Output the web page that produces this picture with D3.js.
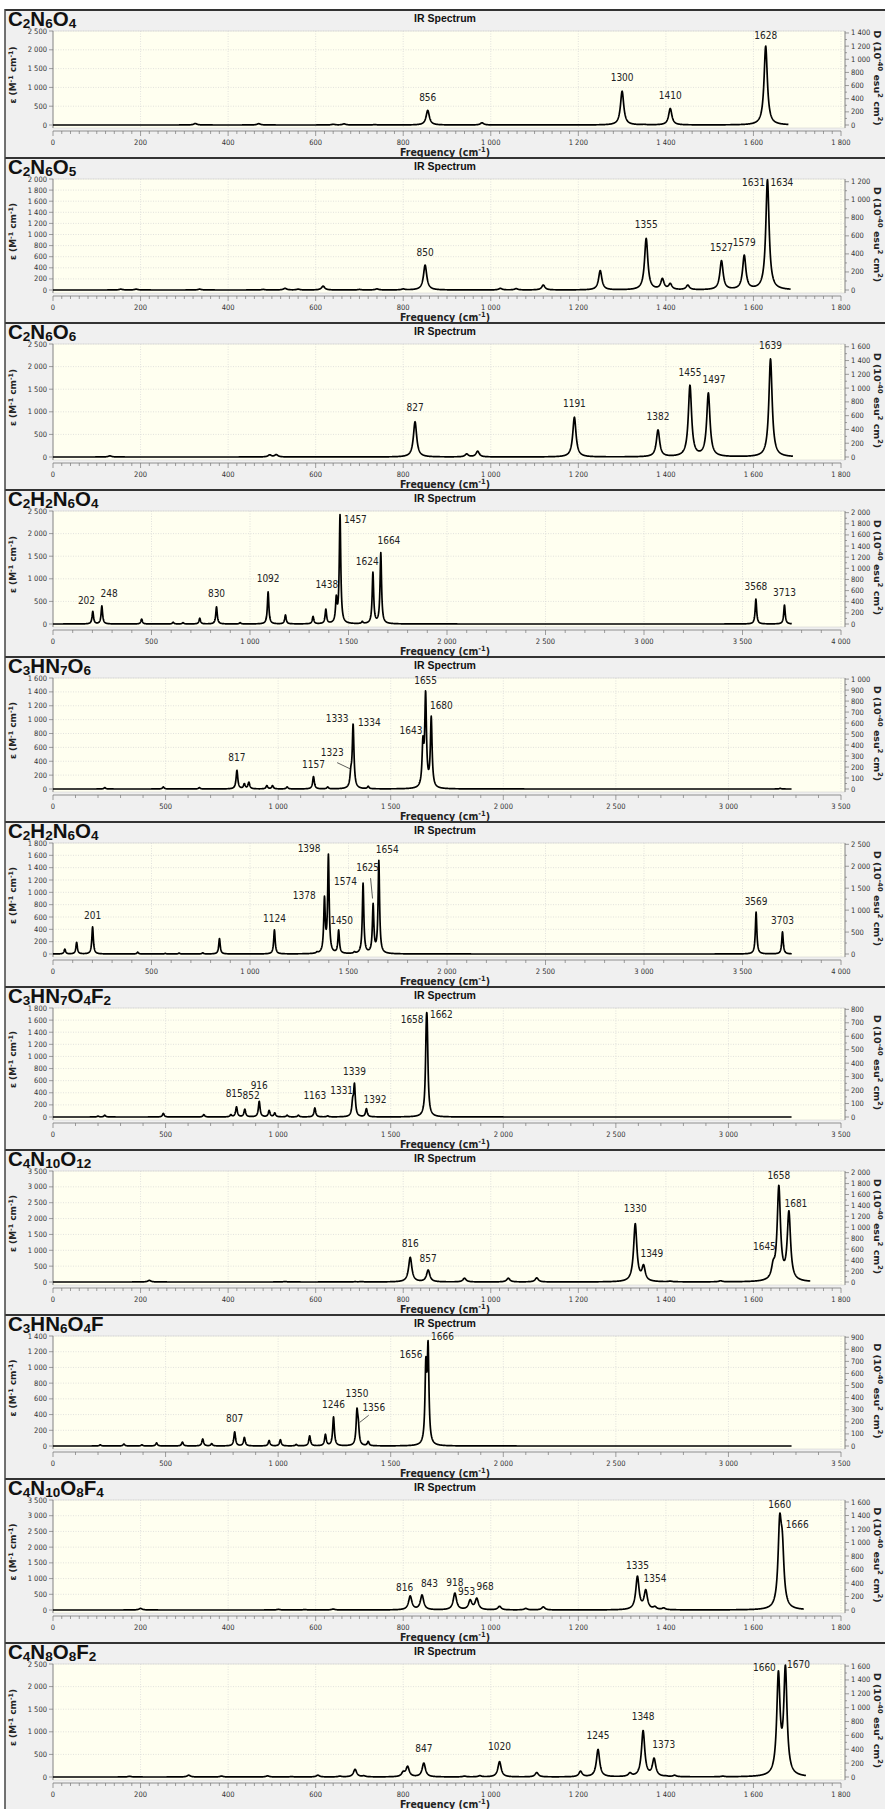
<!DOCTYPE html>
<html><head><meta charset="utf-8">
<script src="https://cdn.jsdelivr.net/npm/d3@7"></script>
<style>body{margin:0;background:#fff}svg{display:block}</style>
</head><body><svg id="c" width="885" height="1809"></svg>
<script>
// ---------------- DATA ----------------
const formulas = ["C2N6O4","C2N6O5","C2N6O6","C2H2N6O4","C3HN7O6","C2H2N6O4","C3HN7O4F2","C4N10O12","C3HN6O4F","C4N10O8F4","C4N8O8F2"];
const xMaxes = [1800,1800,1800,4000,3500,4000,3500,1800,3500,1800,1800];
const xMajor = [200,200,200,500,500,500,500,200,500,200,200];
const xMinor = [20,20,20,100,100,100,100,20,100,20,20];
const yMaxes = [2500,2000,2500,2500,1600,1800,1800,3500,1400,3500,2500];
const yMajor = [500,200,500,500,200,200,200,500,200,500,500];
const dMaxes = [1430,1230,1640,2030,1010,2530,810,2030,910,1630,1630];
const dMajor = [200,200,200,200,100,500,100,200,100,200,200];
const curveEnds = [1680,1685,1690,3750,3280,3750,3280,1730,3280,1715,1720];

// peaks: [frequency cm-1, observed epsilon height]
const peaks01 = [[325,40],[470,35],[640,20],[665,30],[735,12],[856,390],[980,60],[1300,900],[1350,20],[1410,440],[1628,2100]];
const peaks02 = [[155,15],[190,15],[335,15],[480,10],[530,30],[560,15],[617,70],[700,10],[740,20],[800,20],[850,450],[1022,30],[1058,25],[1120,90],[1250,350],[1355,930],[1392,210],[1410,120],[1450,90],[1527,530],[1579,630],[1632,1990]];
const peaks03 = [[130,25],[495,50],[510,55],[827,780],[945,70],[970,130],[1191,880],[1382,600],[1455,1590],[1497,1420],[1639,2170]];
const peaks04 = [[202,280],[248,400],[450,110],[610,40],[660,30],[745,130],[830,380],[950,30],[1092,710],[1180,200],[1320,170],[1385,330],[1438,640],[1457,2420],[1570,60],[1624,1150],[1664,1580],[3568,550],[3713,420]];
const peaks05 = [[230,20],[490,30],[650,20],[817,270],[850,80],[870,100],[950,50],[975,50],[1040,30],[1157,180],[1220,30],[1323,330],[1333,940],[1400,40],[1643,760],[1655,1420],[1680,1050],[3230,10]];
const peaks06 = [[60,80],[120,190],[201,440],[430,30],[570,10],[640,15],[760,20],[845,250],[1124,390],[1340,40],[1378,940],[1398,1620],[1450,390],[1530,40],[1574,1150],[1625,820],[1654,1520],[3569,680],[3703,360]];
const peaks07 = [[200,15],[230,30],[490,60],[670,40],[790,40],[815,170],[852,130],[916,260],[960,110],[985,70],[1040,30],[1090,30],[1163,150],[1220,20],[1331,330],[1339,560],[1392,140],[1658,1600],[1662,1620]];
const peaks08 = [[220,50],[530,15],[690,10],[705,15],[816,780],[857,380],[940,120],[1040,120],[1105,130],[1330,1840],[1349,550],[1410,30],[1525,40],[1645,700],[1658,3050],[1681,2250]];
const peaks09 = [[210,15],[315,25],[395,15],[460,40],[575,50],[665,90],[705,30],[807,180],[850,110],[960,70],[1010,80],[1080,20],[1140,130],[1210,150],[1246,370],[1350,480],[1356,350],[1400,60],[1656,1130],[1666,1340]];
const peaks10 = [[200,50],[515,20],[575,15],[640,30],[816,450],[843,480],[918,540],[953,330],[968,380],[1020,120],[1080,50],[1120,100],[1335,1080],[1354,650],[1375,120],[1395,70],[1660,3050],[1666,2500]];
const peaks11 = [[175,15],[310,40],[385,20],[490,25],[545,10],[605,40],[655,20],[690,170],[710,30],[800,130],[810,240],[847,310],[940,20],[975,30],[1020,340],[1105,100],[1205,130],[1245,610],[1318,100],[1348,1030],[1373,420],[1400,30],[1420,40],[1530,20],[1657,2350],[1673,2480]];

// peak labels: [text, x (cm-1), y (epsilon) of label baseline]
const labels01 = [["856",856,640],["1300",1300,1170],["1410",1410,700],["1628",1628,2300]];
const labels02 = [["850",850,620],["1355",1355,1120],["1527",1527,700],["1579",1579,800],["1631",1600,1880],["1634",1665,1880]];
const labels03 = [["827",827,1010],["1191",1191,1100],["1382",1382,820],["1455",1455,1800],["1497",1510,1640],["1639",1639,2380]];
const labels04 = [["202",170,450],["248",285,590],["830",830,590],["1092",1092,920],["1438",1390,800],["1457",1535,2240],["1624",1595,1310],["1664",1705,1760],["3568",3568,760],["3713",3713,620]];
const labels05 = [["817",817,400],["1157",1157,300],["1323",1240,480],["1333",1262,960],["1334",1405,910],["1643",1590,800],["1655",1655,1520],["1680",1725,1160]];
const labels06 = [["201",201,560],["1124",1124,520],["1378",1275,900],["1398",1300,1650],["1450",1465,490],["1574",1485,1120],["1625",1597,1340],["1654",1697,1640],["3569",3569,800],["3703",3703,480]];
const labels07 = [["815",805,330],["852",880,290],["916",916,470],["1163",1163,290],["1331",1282,380],["1339",1339,700],["1392",1430,230],["1658",1595,1560],["1662",1725,1640]];
const labels08 = [["816",816,1100],["857",857,640],["1330",1330,2200],["1349",1368,780],["1645",1625,1000],["1658",1658,3250],["1681",1697,2350]];
const labels09 = [["807",807,300],["1246",1246,480],["1350",1350,620],["1356",1425,440],["1656",1590,1120],["1666",1730,1350]];
const labels10 = [["816",803,620],["843",860,720],["918",918,760],["953",945,480],["968",987,640],["1335",1335,1300],["1354",1375,900],["1660",1660,3250],["1666",1700,2600]];
const labels11 = [["847",847,560],["1020",1020,600],["1245",1245,850],["1348",1348,1270],["1373",1395,650],["1660",1625,2350],["1670",1703,2420]];

// leader lines: [panel index, x1, y1, x2, y2] (data units)
const leaders = [[4,1262,380,1320,290],[5,1612,1230,1622,900],[8,1402,390,1362,300]];

const allPeaks = [peaks01,peaks02,peaks03,peaks04,peaks05,peaks06,peaks07,peaks08,peaks09,peaks10,peaks11];
const allLabels = [labels01,labels02,labels03,labels04,labels05,labels06,labels07,labels08,labels09,labels10,labels11];

// ---------------- LAYOUT ----------------
const B = [10,158,323,490,657,822,987,1150,1315,1479,1643,1810];
const HW = 4.5; // Lorentzian half width (cm-1)
const X0 = 53, X1 = 841, PR = 845;
const narrow = "'Liberation Sans Narrow','Arial Narrow','DejaVu Sans Condensed',sans-serif";
const sans = "'Liberation Sans',Arial,sans-serif";

const svg = d3.select("#c");
svg.append("rect").attr("width",885).attr("height",1809).attr("fill","#fff");

const fmt = v => d3.format(",")(v).replace(/,/g," ");
const L = (d) => 1/(1+(d/HW)*(d/HW));

function amplitudes(peaks){
  const n = peaks.length, a = peaks.map(p=>p[1]);
  for(let it=0; it<200; it++){
    for(let i=0;i<n;i++){
      let s=0; for(let j=0;j<n;j++) if(j!==i) s += a[j]*L(peaks[i][0]-peaks[j][0]);
      a[i] = 0.5*a[i] + 0.5*Math.max(0, peaks[i][1]-s);
    }
  }
  return a;
}

function rich(t, parts, size, subOff, supOff, smallRatio){
  let cur = 0;
  parts.forEach(([s,k])=>{
    const off = k==="sup" ? -supOff : k==="sub" ? subOff : 0;
    t.append("tspan").text(s).attr("dy", off-cur).attr("font-size", k==="n"?size:size*smallRatio);
    cur = off;
  });
}

function formulaParts(f){
  const out=[]; const re=/([A-Z][a-z]?)|(\d+)/g; let m;
  while((m=re.exec(f))){ if(m[1]) out.push([m[1],"n"]); else out.push([m[2],"sub"]); }
  return out;
}

formulas.forEach((f,i)=>{
  const top = B[i], next = B[i+1];
  const pTop = top+21;
  const zero = next - 33;
  const pBot = zero + 3;
  const g = svg.append("g");
  g.append("rect").attr("x",5).attr("y",top).attr("width",880).attr("height",next-top).attr("fill","#f0f0f0");
  g.append("line").attr("x1",5).attr("x2",885).attr("y1",top).attr("y2",top).attr("stroke","#333").attr("stroke-width",2);

  const x = d3.scaleLinear().domain([0,xMaxes[i]]).range([X0,X1]);
  const y = d3.scaleLinear().domain([0,yMaxes[i]]).range([zero,pTop]);
  const yd = d3.scaleLinear().domain([0,dMaxes[i]]).range([zero,pTop]);

  g.append("rect").attr("x",X0).attr("y",pTop).attr("width",PR-X0).attr("height",pBot-pTop)
    .attr("fill","#fffff0").attr("stroke","#d4d4d4").attr("stroke-width",0.6);

  // grid
  const xt = d3.range(0,xMaxes[i]+1,xMajor[i]);
  const yt = d3.range(0,yMaxes[i]+1,yMajor[i]);
  g.selectAll(null).data(xt.slice(1)).join("line")
    .attr("x1",d=>x(d)).attr("x2",d=>x(d)).attr("y1",pTop).attr("y2",pBot)
    .attr("stroke","#d6d6d6").attr("stroke-width",0.7).attr("stroke-dasharray","1,1.5");
  g.selectAll(null).data(yt.slice(1)).join("line")
    .attr("x1",X0).attr("x2",PR).attr("y1",d=>y(d)).attr("y2",d=>y(d))
    .attr("stroke","#d6d6d6").attr("stroke-width",0.7).attr("stroke-dasharray","1,1.5");

  // x axis
  const xa = zero+6;
  g.append("line").attr("x1",X0).attr("x2",X1).attr("y1",xa).attr("y2",xa).attr("stroke","#777").attr("stroke-width",0.8);
  g.selectAll(null).data(d3.range(0,xMaxes[i]+1,xMinor[i])).join("line")
    .attr("x1",d=>x(d)).attr("x2",d=>x(d)).attr("y1",xa).attr("y2",d=>xa+(d%xMajor[i]===0?5:3))
    .attr("stroke","#777").attr("stroke-width",0.7);
  g.selectAll(null).data(xt).join("text")
    .attr("x",d=>x(d)).attr("y",xa+14).attr("text-anchor","middle")
    .attr("font-family",narrow).attr("font-size",7.5).attr("fill","#333").text(fmt);
  const ft = g.append("text").attr("x",445).attr("y",zero+31).attr("text-anchor","middle")
    .attr("font-family",narrow).attr("font-weight","bold").attr("fill","#222");
  rich(ft,[["Frequency (cm","n"],["-1","sup"],[")","n"]],10.5,3,4,0.7);

  // left axis
  g.append("line").attr("x1",X0).attr("x2",X0).attr("y1",pTop).attr("y2",pBot).attr("stroke","#777").attr("stroke-width",0.8);
  g.selectAll(null).data(yt).join("line")
    .attr("x1",X0-4).attr("x2",X0).attr("y1",d=>y(d)).attr("y2",d=>y(d)).attr("stroke","#777").attr("stroke-width",0.7);
  g.selectAll(null).data(yt).join("text")
    .attr("x",X0-6).attr("y",d=>y(d)+2.5).attr("text-anchor","end")
    .attr("font-family",narrow).attr("font-size",7.5).attr("fill","#333").text(fmt);
  const lt = g.append("text").attr("transform",`translate(16,${(pTop+zero)/2-3}) rotate(-90)`)
    .attr("text-anchor","middle").attr("font-family","'DejaVu Sans',sans-serif").attr("font-weight","bold").attr("fill","#222");
  rich(lt,[["ε (M","n"],["-1","sup"],[" cm","n"],["-1","sup"],[")","n"]],9,3,3.5,0.7);

  // right axis
  const dt = d3.range(0,dMaxes[i]+1,dMajor[i]);
  g.append("line").attr("x1",PR).attr("x2",PR).attr("y1",pTop).attr("y2",pBot).attr("stroke","#777").attr("stroke-width",0.8);
  g.selectAll(null).data(d3.range(0,dMaxes[i]+1,dMajor[i]/2)).join("line")
    .attr("x1",PR).attr("x2",d=>PR+(d%dMajor[i]===0?4:2)).attr("y1",d=>yd(d)).attr("y2",d=>yd(d)).attr("stroke","#777").attr("stroke-width",0.7);
  g.selectAll(null).data(dt).join("text")
    .attr("x",PR+6).attr("y",d=>yd(d)+2.5).attr("text-anchor","start")
    .attr("font-family",narrow).attr("font-size",7.5).attr("fill","#333").text(fmt);
  const rt = g.append("text").attr("transform",`translate(874,${(pTop+zero)/2}) rotate(90)`)
    .attr("text-anchor","middle").attr("font-family","'DejaVu Sans',sans-serif").attr("font-weight","bold").attr("fill","#222");
  rich(rt,[["D (10","n"],["-40","sup"],[" esu","n"],["2","sup"],[" cm","n"],["2","sup"],[")","n"]],9.5,3,3.5,0.7);

  // titles
  const tt = g.append("text").attr("x",8).attr("y",top+15.5).attr("font-family",sans).attr("font-weight","bold").attr("fill","#111");
  rich(tt,formulaParts(f),20.5,2.5,0,0.66);
  g.append("text").attr("x",445).attr("y",top+12).attr("text-anchor","middle")
    .attr("font-family",sans).attr("font-weight","bold").attr("font-size",10.5).attr("fill","#111").text("IR Spectrum");

  // spectrum
  const peaks = allPeaks[i];
  const amp = amplitudes(peaks);
  const step = xMaxes[i]/4000;
  const pts = d3.range(0, curveEnds[i]+step/2, step).map(v=>{
    let s=0; peaks.forEach((p,k)=>{ s += amp[k]*L(v-p[0]); });
    return [v,s];
  });
  g.append("path").datum(pts).attr("fill","none").attr("stroke","#000").attr("stroke-width",1.7)
    .attr("stroke-linejoin","round").attr("d",d3.line().x(d=>x(d[0])).y(d=>y(d[1])));

  // labels
  g.selectAll(null).data(allLabels[i]).join("text")
    .attr("x",d=>x(d[1])).attr("y",d=>y(d[2])).attr("text-anchor","middle")
    .attr("font-family",narrow).attr("font-size",10).attr("fill","#222").text(d=>d[0]);
  leaders.filter(l=>l[0]===i).forEach(l=>{
    g.append("line").attr("x1",x(l[1])).attr("y1",y(l[2])).attr("x2",x(l[3])).attr("y2",y(l[4]))
      .attr("stroke","#333").attr("stroke-width",0.8);
  });
});
// left frame edge
svg.append("line").attr("x1",5).attr("x2",5).attr("y1",9).attr("y2",1809).attr("stroke","#444").attr("stroke-width",1.5);
</script></body></html>
